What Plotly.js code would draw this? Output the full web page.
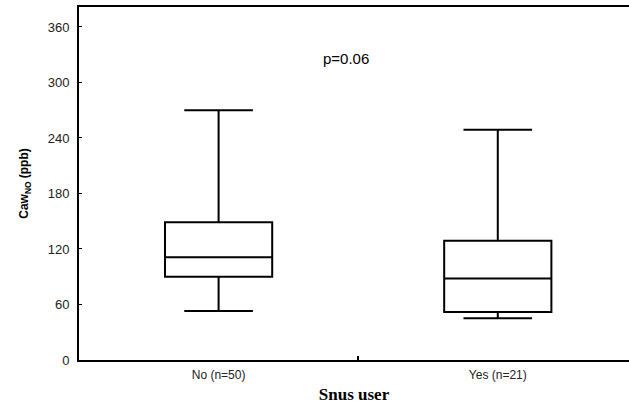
<!DOCTYPE html>
<html>
<head>
<meta charset="utf-8">
<script src="https://cdn.plot.ly/plotly-3.0.1.min.js"></script>
<style>html,body{margin:0;padding:0;overflow:hidden;background:#fff}</style>
</head>
<body>
<div id="chart" style="width:629px;height:412px"></div>
<script>
const categories = ["No (n=50)", "Yes (n=21)"];
const lowerWhisker = [53, 45];
const q1Values = [90, 52];
const medianValues = [111, 88];
const q3Values = [149, 129];
const upperWhisker = [270, 249];
const yTicks = [0, 60, 120, 180, 240, 300, 360];
const annotationText = "p=0.06";

const trace = {
  type: "box",
  x: categories,
  q1: q1Values,
  median: medianValues,
  q3: q3Values,
  lowerfence: lowerWhisker,
  upperfence: upperWhisker,
  width: 0.384,
  whiskerwidth: 0.64,
  fillcolor: "rgba(255,255,255,0)",
  line: {color: "#000", width: 2},
  hoverinfo: "skip",
  showlegend: false
};

const layout = {
  width: 629,
  height: 412,
  margin: {l: 79, r: 0, t: 7, b: 52},
  paper_bgcolor: "#fff",
  plot_bgcolor: "#fff",
  showlegend: false,
  xaxis: {
    type: "category",
    range: [-0.5, 1.47],
    showline: true,
    mirror: true,
    linecolor: "#000",
    linewidth: 2,
    ticks: "inside",
    tickson: "boundaries",
    ticklen: 4,
    tickwidth: 2,
    tickcolor: "#000",
    showgrid: false,
    zeroline: false,
    ticklabelstandoff: 3,
    tickfont: {family: "Liberation Sans, Arial, sans-serif", size: 12, color: "#222"},
    title: {text: "Snus user", font: {family: "Liberation Serif, Times New Roman, serif", size: 17, color: "#000", weight: "bold"}, standoff: 7}
  },
  yaxis: {
    range: [0, 381.6],
    tickvals: yTicks,
    ticktext: yTicks.map(String),
    showline: true,
    linecolor: "#000",
    linewidth: 2,
    ticks: "inside",
    ticklen: 3,
    tickwidth: 1,
    tickcolor: "#000",
    showgrid: false,
    zeroline: false,
    ticklabelstandoff: 5,
    tickfont: {family: "Liberation Sans, Arial, sans-serif", size: 13, color: "#222"},
    title: {text: "<b>Caw<sub>NO</sub> (ppb)</b>", font: {family: "Liberation Sans, Arial, sans-serif", size: 12, color: "#000"}, standoff: 16}
  },
  annotations: [{
    text: annotationText,
    xref: "paper", yref: "y",
    x: (346 - 79) / 550, y: 326,
    showarrow: false,
    font: {family: "Liberation Sans, Arial, sans-serif", size: 15, color: "#000"}
  }]
};

Plotly.newPlot("chart", [trace], layout, {displayModeBar: false, staticPlot: true});
</script>
</body>
</html>
